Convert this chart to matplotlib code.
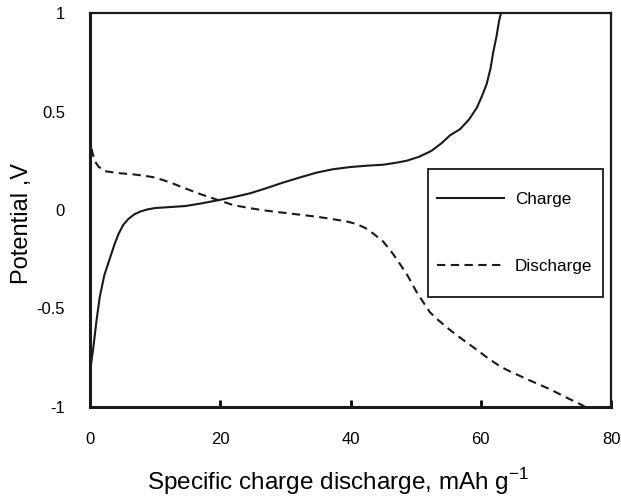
import matplotlib
matplotlib.use("Agg")
import matplotlib.pyplot as plt
from matplotlib.patches import Rectangle

plt.rcParams['font.family'] = ['Liberation Sans', 'DejaVu Sans']

# charge curve (capacity mAh/g, potential V)
charge_x = [0.0, 0.5, 1.0, 1.5, 2.2, 3.1, 3.8, 4.4, 5.1, 5.9, 6.8, 7.7, 8.8, 10.0,
            12.3, 14.6, 17.0, 19.7, 22.0, 24.6, 27.0, 29.7, 32.2, 34.8, 37.3, 39.9,
            42.5, 45.0, 47.0, 48.6, 50.5, 52.4, 54.0, 55.3, 56.8, 58.2, 59.4, 60.2,
            60.9, 61.5, 61.9, 62.4, 62.8, 63.1]
charge_y = [-0.82, -0.70, -0.56, -0.44, -0.33, -0.24, -0.17, -0.12, -0.075, -0.045, -0.022,
            -0.008, 0.003, 0.01, 0.015, 0.02, 0.033, 0.05, 0.065, 0.085, 0.11, 0.14, 0.165,
            0.19, 0.207, 0.218, 0.225, 0.23, 0.24, 0.25, 0.27, 0.30, 0.34, 0.38, 0.41, 0.46,
            0.52, 0.58, 0.64, 0.72, 0.80, 0.88, 0.96, 1.0]

# discharge curve
discharge_x = [0.0, 0.3, 0.7, 1.3, 2.3, 4.5, 6.9, 8.5, 10.0, 12.3, 14.6, 17.0, 19.7,
               22.0, 24.6, 27.0, 29.7, 32.0, 34.8, 37.0, 39.4, 41.0, 42.3, 43.5, 45.0,
               46.0, 47.1, 48.7, 50.2, 51.2, 52.2, 53.5, 55.3, 57.3, 59.4, 61.2, 63.0,
               64.5, 67.5, 70.6, 73.0, 75.5, 76.0]
discharge_y = [0.38, 0.30, 0.25, 0.22, 0.197, 0.187, 0.18, 0.173, 0.165, 0.14, 0.11, 0.08,
               0.05, 0.025, 0.009, -0.003, -0.014, -0.023, -0.034, -0.045, -0.058, -0.072,
               -0.092, -0.12, -0.16, -0.20, -0.25, -0.33, -0.42, -0.47, -0.52, -0.56, -0.61,
               -0.66, -0.71, -0.755, -0.795, -0.82, -0.865, -0.91, -0.95, -0.99, -1.0]

xticks = [0, 20, 40, 60, 80]
yticks = [-1, -0.5, 0, 0.5, 1]
yticklabels = ['-1', '-0.5', '0', '0.5', '1']

fig = plt.figure(figsize=(6.21, 5.03), dpi=100)
ax = fig.add_axes([0.145, 0.191, 0.839, 0.783])

ax.plot(charge_x, charge_y, color='#1a1a1a', lw=1.5, label='Charge')
ax.plot(discharge_x, discharge_y, color='#1a1a1a', lw=1.5, ls=(0, (4, 2.6)),
        label='Discharge')

ax.set_xlim(0, 80)
ax.set_ylim(-1, 1)
ax.set_xticks(xticks)
ax.set_yticks(yticks)
ax.set_yticklabels(yticklabels)
ax.tick_params(axis='x', direction='in', length=5, width=2, pad=18, labelsize=12)
ax.tick_params(axis='y', length=0, pad=18, labelsize=12)

for side in ['left', 'bottom']:
    ax.spines[side].set_linewidth(2.2)
for side in ['top', 'right']:
    ax.spines[side].set_linewidth(1.6)
for s in ax.spines.values():
    s.set_color('#1a1a1a')

ax.set_xlabel('Specific charge discharge, mAh g$^{\\mathregular{-1}}$', fontsize=17.5, va='center')
ax.set_ylabel('Potential ,V', fontsize=17, va='center')
ax.xaxis.set_label_coords(0.475, -0.19)
ax.yaxis.set_label_coords(-0.1305, 0.465)

# legend box
ax.add_patch(Rectangle((0.649, 0.279), 0.336, 0.325, transform=ax.transAxes,
                       fill=False, edgecolor='#1a1a1a', lw=1.3, zorder=3))
ax.legend(loc='center', bbox_to_anchor=(0.815, 0.4415), frameon=False, fontsize=12.3,
          handlelength=3.9, handletextpad=0.65, labelspacing=3.05, borderpad=0)

fig.savefig('out.png', dpi=100)
